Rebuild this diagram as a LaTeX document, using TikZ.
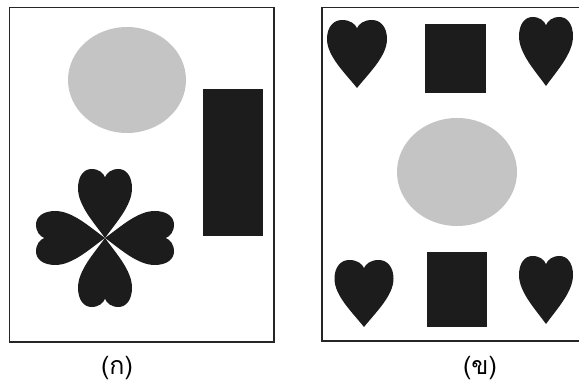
\documentclass[tikz,border=0pt]{standalone}
\usepackage{fontspec}
\newfontfamily\thaifont[Script=Thai]{Loma}
\usepackage{tikz}
\usetikzlibrary{positioning}
\definecolor{ink}{RGB}{28,28,28}
\definecolor{dotgray}{RGB}{196,196,196}

\begin{document}
\begin{tikzpicture}[x=1pt, y=-1pt,
  frame/.style={draw=black!85, line width=1.6pt},
  solid/.style={fill=ink},
  disc/.style={fill=dotgray},
  lbl/.style={font=\thaifont\fontsize{25}{28}\selectfont},
  pics/heart/.style 2 args={code={
    \begin{scope}[xscale=#1, yscale=#2]
    \fill[ink] (0,0) .. controls (-0.2,-0.22) and (-0.5,-0.47) .. (-0.5,-0.72)
      .. controls (-0.5,-0.9) and (-0.39,-1) .. (-0.25,-1)
      .. controls (-0.11,-1) and (-0.03,-0.94) .. (0,-0.88)
      .. controls (0.03,-0.94) and (0.11,-1) .. (0.25,-1)
      .. controls (0.39,-1) and (0.5,-0.9) .. (0.5,-0.72)
      .. controls (0.5,-0.47) and (0.2,-0.22) .. (0,0) -- cycle;
    \end{scope}}}]
\useasboundingbox (0,0) rectangle (579,387);
% left panel
\draw[frame] (9.5,7.5) rectangle (274,342);
\fill[disc] (127,80) ellipse (59 and 53);
\fill[solid] (203,89) rectangle (263,236);
\foreach \r in {0,90,180,270}
  \pic[rotate=\r] at (105,238) {heart={54}{69}};
\node[lbl] (capA) at (117,368) {(ก)};
% right panel
\draw[frame] (322,7.5) rectangle (590,341);
\pic at (357,88) {heart={60}{68}};
\pic at (546,86) {heart={54}{69}};
\pic at (364,327) {heart={59}{67}};
\pic at (546,324) {heart={54}{68}};
\fill[solid] (425,24) rectangle (486,93);
\fill[solid] (427,252) rectangle (487,327);
\fill[disc] (457,172) ellipse (60 and 54);
\node[lbl] (capB) at (480,368) {(ข)};
\end{tikzpicture}
\end{document}
